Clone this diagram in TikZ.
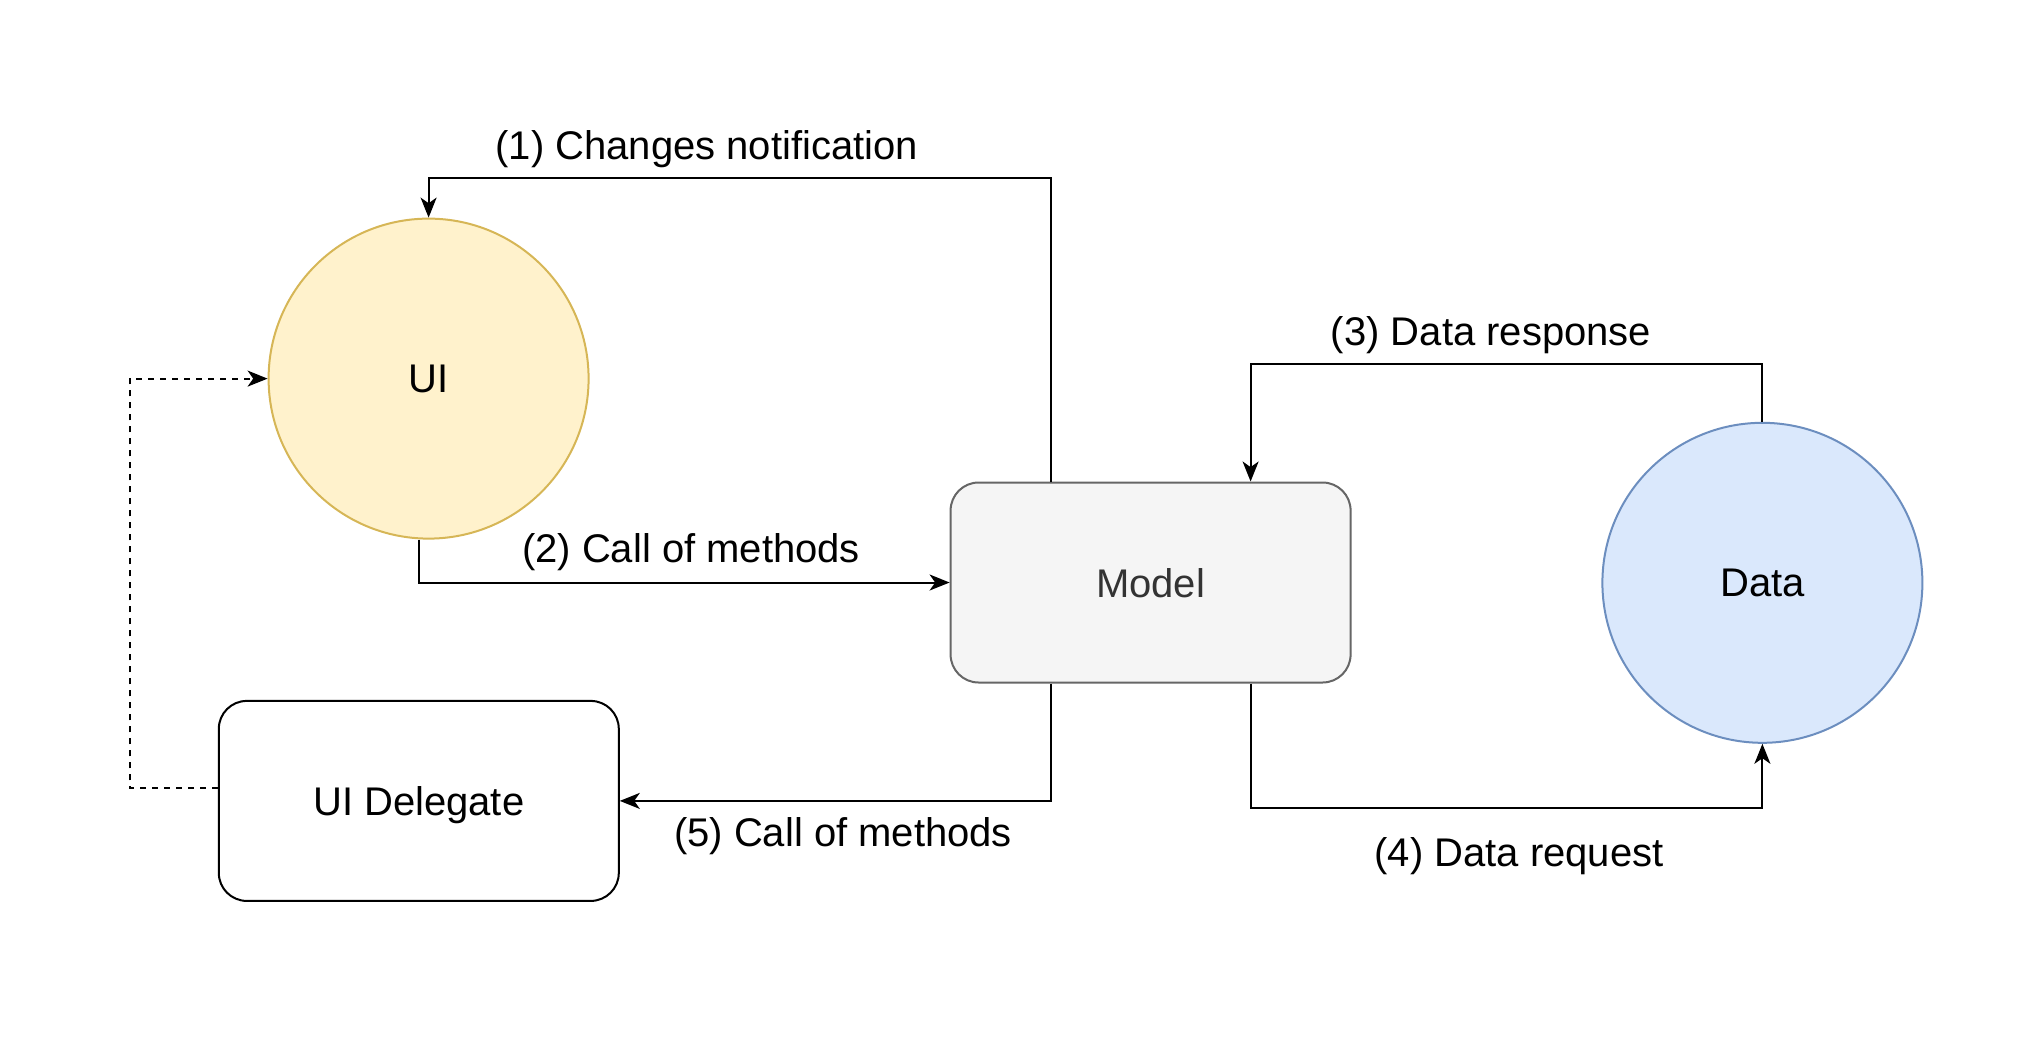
\documentclass[tikz,border=0pt]{standalone}
\usepackage{fontspec}
\setmainfont{Liberation Sans}
\usetikzlibrary{positioning, arrows.meta}

\definecolor{uiFill}{HTML}{FFF2CC}
\definecolor{uiLine}{HTML}{D6B656}
\definecolor{dataFill}{HTML}{DAE8FC}
\definecolor{dataLine}{HTML}{6C8EBF}
\definecolor{modelFill}{HTML}{F5F5F5}
\definecolor{modelLine}{HTML}{666666}
\definecolor{modelText}{HTML}{333333}

\begin{document}
\begin{tikzpicture}[
    x=0.5pt, y=-0.5pt,
    flow/.style={-{Stealth[length=10pt, width=8pt, inset=2.8pt]}, line width=1pt},
    edgelabel/.style={font=\fontsize{20}{24}\selectfont, inner sep=0pt},
    roundbox/.style={draw, rounded corners=14pt, line width=1pt, minimum width=200pt, minimum height=100pt, text depth=0pt, font=\fontsize{20}{24}\selectfont},
    ball/.style={circle, draw, line width=1pt, minimum size=160pt, font=\fontsize{20}{24}\selectfont}
]
    \useasboundingbox (0, 0) rectangle (2036, 1062);

    % === Nodes ===
    \node[ball, fill=uiFill, draw=uiLine] (ui) at (428.6, 378.6) {UI};
    \node[ball, fill=dataFill, draw=dataLine] (data) at (1762.4, 582.8) {Data};
    \node[roundbox, fill=modelFill, draw=modelLine, text=modelText] (model) at (1150.6, 582.5) {Model};
    \node[roundbox, fill=white] (delegate) at (418.8, 800.9) {UI Delegate};

    % === Connectors ===
    % (1) Model -> UI
    \draw[flow] ([xshift=-50pt]model.north) -- ++(0, -304) -| (ui.north);
    % (2) UI -> Model
    \draw[flow] ([xshift=-5pt]ui.south) |- (model.west);
    % (3) Data -> Model
    \draw[flow] (data.north) -- ++(0, -58) -| ([xshift=50pt]model.north);
    % (4) Model -> Data
    \draw[flow] ([xshift=50pt]model.south) -- ++(0, 124) -| (data.south);
    % (5) Model -> UI Delegate
    \draw[flow] ([xshift=-50pt]model.south) |- (delegate.east);
    % UI Delegate -> UI
    \draw[flow, dash pattern=on 3pt off 3pt] ([yshift=6.25pt]delegate.west) -- ++(-88, 0) |- (ui.west);

    % === Labels ===
    \node[edgelabel] (l1) at (706.8, 149) {(1) Changes notification};
    \node[edgelabel] (l2) at (691, 552.5) {(2) Call of methods};
    \node[edgelabel] (l3) at (1491, 335.5) {(3) Data response};
    \node[edgelabel] (l4) at (1519, 856.5) {(4) Data request};
    \node[edgelabel] (l5) at (843, 836.5) {(5) Call of methods};

\end{tikzpicture}
\end{document}
